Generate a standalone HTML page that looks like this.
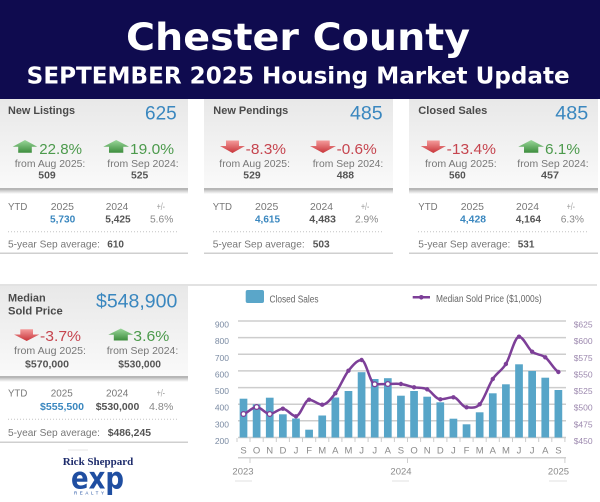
<!DOCTYPE html>
<html><head><meta charset="utf-8"><style>
html,body{margin:0;padding:0;background:#fff;}
svg{display:block;}
.s{font-family:"Liberation Sans",Arial,sans-serif;}
</style></head><body>
<svg width="600" height="502" viewBox="0 0 600 502" xmlns="http://www.w3.org/2000/svg">
<defs>
<linearGradient id="cg" x1="0" y1="0" x2="0" y2="1"><stop offset="0" stop-color="#e8e8e8"/><stop offset="1" stop-color="#fafafa"/></linearGradient>
<linearGradient id="sh" x1="0" y1="0" x2="0" y2="1"><stop offset="0" stop-color="#c4c4c4"/><stop offset="1" stop-color="#ffffff"/></linearGradient>
<linearGradient id="gu" x1="0" y1="0" x2="0" y2="1"><stop offset="0" stop-color="#9ad79a"/><stop offset="1" stop-color="#3d8d3d"/></linearGradient>
<linearGradient id="rd" x1="0" y1="0" x2="0" y2="1"><stop offset="0" stop-color="#f49a9a"/><stop offset="1" stop-color="#c8353a"/></linearGradient>
</defs>
<rect x="0" y="0" width="600" height="99" fill="#0f0b4f"/>
<text x="298" y="50" text-anchor="middle" font-family="'DejaVu Sans',sans-serif" font-weight="bold" font-size="37" fill="#fff" textLength="344" lengthAdjust="spacingAndGlyphs">Chester County</text>
<text x="26.7" y="83.3" font-family="'DejaVu Sans',sans-serif" font-weight="bold" font-size="23" fill="#fff" textLength="543" lengthAdjust="spacingAndGlyphs">SEPTEMBER 2025 Housing Market Update</text>

<!-- card backgrounds -->
<rect x="0" y="99" width="188" height="90" fill="url(#cg)"/>
<rect x="204" y="99" width="189" height="90" fill="url(#cg)"/>
<rect x="409" y="99" width="189" height="90" fill="url(#cg)"/>
<rect x="0" y="286" width="188" height="91" fill="url(#cg)"/>
<g>
<rect x="0" y="190" width="188" height="4" fill="url(#sh)"/>
<rect x="204" y="190" width="189" height="4" fill="url(#sh)"/>
<rect x="409" y="190" width="189" height="4" fill="url(#sh)"/>
<rect x="0" y="378" width="188" height="4" fill="url(#sh)"/>
<line x1="0" y1="189" x2="188" y2="189" stroke="#a0a0a0" stroke-width="1.6"/>
<line x1="204" y1="189" x2="393" y2="189" stroke="#a0a0a0" stroke-width="1.6"/>
<line x1="409" y1="189" x2="598" y2="189" stroke="#a0a0a0" stroke-width="1.6"/>
<line x1="0" y1="377" x2="188" y2="377" stroke="#a0a0a0" stroke-width="1.6"/>
</g>
<g stroke="#c4c4c4" stroke-width="1" stroke-dasharray="1 2">
<line x1="8" y1="231.7" x2="179" y2="231.7"/>
<line x1="213" y1="231.7" x2="384" y2="231.7"/>
<line x1="418" y1="231.7" x2="589" y2="231.7"/>
<line x1="8" y1="419.3" x2="179" y2="419.3"/>
</g>
<g stroke="#cfcfcf" stroke-width="1.5">
<line x1="0" y1="253.3" x2="188" y2="253.3"/>
<line x1="204" y1="253.3" x2="393" y2="253.3"/>
<line x1="409" y1="253.3" x2="598" y2="253.3"/>
<line x1="0" y1="442.3" x2="188" y2="442.3"/>
<line x1="0" y1="285" x2="597" y2="285" stroke="#d8d8d8"/>
</g>

<!-- arrows -->
<g>
<polygon points="25,140 37.3,146.7 31.8,146.7 31.8,152.7 18.2,152.7 18.2,146.7 12.7,146.7" fill="url(#gu)"/>
<polygon points="116.2,140 129,146.7 123.3,146.7 123.3,152.7 109,152.7 109,146.7 103.3,146.7" fill="url(#gu)"/>
<polygon points="226,140.5 239,140.5 239,146 245,146 232.5,153 220,146 226,146" fill="url(#rd)"/>
<polygon points="316.3,140.5 329.7,140.5 329.7,146 336,146 323,153 310,146 316.3,146" fill="url(#rd)"/>
<polygon points="427,140.5 439.7,140.5 439.7,146 446,146 433.3,153 420.7,146 427,146" fill="url(#rd)"/>
<polygon points="531.2,140 544,146.7 538.3,146.7 538.3,152.7 524,152.7 524,146.7 518.3,146.7" fill="url(#gu)"/>
<polygon points="20.3,329.3 33,329.3 33,334.5 39.3,334.5 26.7,341 14,334.5 20.3,334.5" fill="url(#rd)"/>
<polygon points="120.8,328.5 133.3,334.8 127.8,334.8 127.8,340.5 113.8,340.5 113.8,334.8 108.3,334.8" fill="url(#gu)"/>
</g>

<g class="s">
<!-- card 1 -->
<text x="8" y="114" font-size="11" font-weight="bold" fill="#4a4a4a" textLength="67" lengthAdjust="spacingAndGlyphs">New Listings</text>
<text x="145" y="119.3" font-size="19.5" fill="#3a87bf" textLength="31.7" lengthAdjust="spacingAndGlyphs">625</text>
<text x="39.3" y="154" font-size="15" fill="#4c9a4c" textLength="42.7" lengthAdjust="spacingAndGlyphs">22.8%</text>
<text x="130" y="154" font-size="15" fill="#4c9a4c" textLength="44" lengthAdjust="spacingAndGlyphs">19.0%</text>
<text x="14.7" y="166.8" font-size="10.5" fill="#777" textLength="70.6" lengthAdjust="spacingAndGlyphs">from Aug 2025:</text>
<text x="107.3" y="166.8" font-size="10.5" fill="#777" textLength="71.4" lengthAdjust="spacingAndGlyphs">from Sep 2024:</text>
<text x="38.3" y="178.6" font-size="10.5" font-weight="bold" fill="#555" textLength="17.4" lengthAdjust="spacingAndGlyphs">509</text>
<text x="131" y="178.6" font-size="10.5" font-weight="bold" fill="#555" textLength="17.3" lengthAdjust="spacingAndGlyphs">525</text>
<text x="8" y="210" font-size="10.5" fill="#777" textLength="19.3" lengthAdjust="spacingAndGlyphs">YTD</text>
<text x="50.7" y="210" font-size="10.5" fill="#777" textLength="23.3" lengthAdjust="spacingAndGlyphs">2025</text>
<text x="105.7" y="210" font-size="10.5" fill="#777" textLength="22.6" lengthAdjust="spacingAndGlyphs">2024</text>
<text x="156.7" y="210" font-size="10" fill="#999" textLength="8.3" lengthAdjust="spacingAndGlyphs">+/-</text>
<text x="50" y="222.7" font-size="10.5" font-weight="bold" fill="#3a87bf" textLength="25.3" lengthAdjust="spacingAndGlyphs">5,730</text>
<text x="105.3" y="222.7" font-size="10.5" font-weight="bold" fill="#555" textLength="25.4" lengthAdjust="spacingAndGlyphs">5,425</text>
<text x="150" y="222.7" font-size="10.5" fill="#888" textLength="23.3" lengthAdjust="spacingAndGlyphs">5.6%</text>
<text x="8" y="247.3" font-size="10.5" fill="#777" textLength="92" lengthAdjust="spacingAndGlyphs">5-year Sep average:</text>
<text x="107.3" y="247.3" font-size="10.5" font-weight="bold" fill="#555" textLength="16.7" lengthAdjust="spacingAndGlyphs">610</text>

<!-- card 2 -->
<text x="213.3" y="114" font-size="11" font-weight="bold" fill="#4a4a4a" textLength="75" lengthAdjust="spacingAndGlyphs">New Pendings</text>
<text x="350" y="119.3" font-size="19.5" fill="#3a87bf" textLength="32.7" lengthAdjust="spacingAndGlyphs">485</text>
<text x="245.7" y="154" font-size="15" fill="#c6454f" textLength="40.3" lengthAdjust="spacingAndGlyphs">-8.3%</text>
<text x="336.7" y="154" font-size="15" fill="#c6454f" textLength="40" lengthAdjust="spacingAndGlyphs">-0.6%</text>
<text x="219.3" y="166.8" font-size="10.5" fill="#777" textLength="70.7" lengthAdjust="spacingAndGlyphs">from Aug 2025:</text>
<text x="312.7" y="166.8" font-size="10.5" fill="#777" textLength="70.6" lengthAdjust="spacingAndGlyphs">from Sep 2024:</text>
<text x="243.3" y="178.6" font-size="10.5" font-weight="bold" fill="#555" textLength="17.4" lengthAdjust="spacingAndGlyphs">529</text>
<text x="336.7" y="178.6" font-size="10.5" font-weight="bold" fill="#555" textLength="17.3" lengthAdjust="spacingAndGlyphs">488</text>
<text x="212.7" y="210" font-size="10.5" fill="#777" textLength="19.3" lengthAdjust="spacingAndGlyphs">YTD</text>
<text x="255" y="210" font-size="10.5" fill="#777" textLength="23.3" lengthAdjust="spacingAndGlyphs">2025</text>
<text x="310" y="210" font-size="10.5" fill="#777" textLength="23" lengthAdjust="spacingAndGlyphs">2024</text>
<text x="361" y="210" font-size="10" fill="#999" textLength="8.3" lengthAdjust="spacingAndGlyphs">+/-</text>
<text x="255" y="222.7" font-size="10.5" font-weight="bold" fill="#3a87bf" textLength="25" lengthAdjust="spacingAndGlyphs">4,615</text>
<text x="309.3" y="222.7" font-size="10.5" font-weight="bold" fill="#555" textLength="26.7" lengthAdjust="spacingAndGlyphs">4,483</text>
<text x="355" y="222.7" font-size="10.5" fill="#888" textLength="23.3" lengthAdjust="spacingAndGlyphs">2.9%</text>
<text x="212.7" y="247.3" font-size="10.5" fill="#777" textLength="92" lengthAdjust="spacingAndGlyphs">5-year Sep average:</text>
<text x="312.7" y="247.3" font-size="10.5" font-weight="bold" fill="#555" textLength="17" lengthAdjust="spacingAndGlyphs">503</text>

<!-- card 3 -->
<text x="418.3" y="114" font-size="11" font-weight="bold" fill="#4a4a4a" textLength="69" lengthAdjust="spacingAndGlyphs">Closed Sales</text>
<text x="555.3" y="119.3" font-size="19.5" fill="#3a87bf" textLength="33" lengthAdjust="spacingAndGlyphs">485</text>
<text x="446.7" y="154" font-size="15" fill="#c6454f" textLength="49.3" lengthAdjust="spacingAndGlyphs">-13.4%</text>
<text x="545" y="154" font-size="15" fill="#4c9a4c" textLength="35" lengthAdjust="spacingAndGlyphs">6.1%</text>
<text x="425" y="166.8" font-size="10.5" fill="#777" textLength="71.7" lengthAdjust="spacingAndGlyphs">from Aug 2025:</text>
<text x="517.3" y="166.8" font-size="10.5" fill="#777" textLength="71.4" lengthAdjust="spacingAndGlyphs">from Sep 2024:</text>
<text x="449" y="178.6" font-size="10.5" font-weight="bold" fill="#555" textLength="16.7" lengthAdjust="spacingAndGlyphs">560</text>
<text x="541" y="178.6" font-size="10.5" font-weight="bold" fill="#555" textLength="18" lengthAdjust="spacingAndGlyphs">457</text>
<text x="418.3" y="210" font-size="10.5" fill="#777" textLength="19.3" lengthAdjust="spacingAndGlyphs">YTD</text>
<text x="460.7" y="210" font-size="10.5" fill="#777" textLength="23.3" lengthAdjust="spacingAndGlyphs">2025</text>
<text x="516" y="210" font-size="10.5" fill="#777" textLength="23" lengthAdjust="spacingAndGlyphs">2024</text>
<text x="566.7" y="210" font-size="10" fill="#999" textLength="8.3" lengthAdjust="spacingAndGlyphs">+/-</text>
<text x="460" y="222.7" font-size="10.5" font-weight="bold" fill="#3a87bf" textLength="26" lengthAdjust="spacingAndGlyphs">4,428</text>
<text x="515.7" y="222.7" font-size="10.5" font-weight="bold" fill="#555" textLength="25.3" lengthAdjust="spacingAndGlyphs">4,164</text>
<text x="560.7" y="222.7" font-size="10.5" fill="#888" textLength="23.3" lengthAdjust="spacingAndGlyphs">6.3%</text>
<text x="418.3" y="247.3" font-size="10.5" fill="#777" textLength="92" lengthAdjust="spacingAndGlyphs">5-year Sep average:</text>
<text x="517.7" y="247.3" font-size="10.5" font-weight="bold" fill="#555" textLength="16.7" lengthAdjust="spacingAndGlyphs">531</text>

<!-- card 4 -->
<text x="8" y="301.7" font-size="11" font-weight="bold" fill="#4a4a4a" textLength="37.7" lengthAdjust="spacingAndGlyphs">Median</text>
<text x="8" y="314.3" font-size="11" font-weight="bold" fill="#4a4a4a" textLength="54.7" lengthAdjust="spacingAndGlyphs">Sold Price</text>
<text x="96" y="307.3" font-size="19.5" fill="#3a87bf" textLength="81.3" lengthAdjust="spacingAndGlyphs">$548,900</text>
<text x="40" y="341" font-size="15" fill="#c6454f" textLength="41" lengthAdjust="spacingAndGlyphs">-3.7%</text>
<text x="133.3" y="341" font-size="15" fill="#4c9a4c" textLength="36" lengthAdjust="spacingAndGlyphs">3.6%</text>
<text x="14" y="354" font-size="10.5" fill="#777" textLength="72" lengthAdjust="spacingAndGlyphs">from Aug 2025:</text>
<text x="106.7" y="354" font-size="10.5" fill="#777" textLength="71.6" lengthAdjust="spacingAndGlyphs">from Sep 2024:</text>
<text x="25" y="367.3" font-size="10.5" font-weight="bold" fill="#555" textLength="44" lengthAdjust="spacingAndGlyphs">$570,000</text>
<text x="118.3" y="367.3" font-size="10.5" font-weight="bold" fill="#555" textLength="42.7" lengthAdjust="spacingAndGlyphs">$530,000</text>
<text x="8" y="396.7" font-size="10.5" fill="#777" textLength="19.3" lengthAdjust="spacingAndGlyphs">YTD</text>
<text x="50.7" y="396.7" font-size="10.5" fill="#777" textLength="22" lengthAdjust="spacingAndGlyphs">2025</text>
<text x="106" y="396.7" font-size="10.5" fill="#777" textLength="22.3" lengthAdjust="spacingAndGlyphs">2024</text>
<text x="156.7" y="396.7" font-size="10" fill="#999" textLength="8.3" lengthAdjust="spacingAndGlyphs">+/-</text>
<text x="40" y="410" font-size="10.5" font-weight="bold" fill="#3a87bf" textLength="44" lengthAdjust="spacingAndGlyphs">$555,500</text>
<text x="95.7" y="410" font-size="10.5" font-weight="bold" fill="#555" textLength="43.6" lengthAdjust="spacingAndGlyphs">$530,000</text>
<text x="149" y="410" font-size="10.5" fill="#888" textLength="24.3" lengthAdjust="spacingAndGlyphs">4.8%</text>
<text x="8" y="436" font-size="10.5" fill="#777" textLength="92" lengthAdjust="spacingAndGlyphs">5-year Sep average:</text>
<text x="107.7" y="436" font-size="10.5" font-weight="bold" fill="#555" textLength="43.3" lengthAdjust="spacingAndGlyphs">$486,245</text>
</g>

<!-- logo -->
<line x1="68" y1="450" x2="88" y2="450" stroke="#ddd" stroke-width="0.8"/>
<text x="62.7" y="465" font-family="'Liberation Serif',serif" font-weight="bold" font-size="11" fill="#1d2b6b" textLength="70.6" lengthAdjust="spacingAndGlyphs">Rick Sheppard</text>
<text x="71" y="488.3" font-family="'DejaVu Sans',sans-serif" font-weight="bold" font-size="30" fill="#1f4ea1" textLength="53" lengthAdjust="spacingAndGlyphs">exp</text>
<text x="74" y="494.5" font-family="'Liberation Sans',sans-serif" font-size="4.5" fill="#1f4ea1" textLength="30" lengthAdjust="spacing">REALTY</text>

<!-- chart -->
<g class="s">
<rect x="245.7" y="290" width="18.3" height="13" rx="2" fill="#5aa6c9"/>
<text x="269.5" y="302.5" font-size="10" fill="#666" textLength="49" lengthAdjust="spacingAndGlyphs">Closed Sales</text>
<line x1="412.7" y1="297.3" x2="430" y2="297.3" stroke="#7d3f98" stroke-width="2.5"/>
<circle cx="421.3" cy="297.3" r="2.3" fill="#7d3f98"/>
<text x="436" y="302" font-size="10" fill="#666" textLength="105.7" lengthAdjust="spacingAndGlyphs">Median Sold Price ($1,000s)</text>
</g>
<g stroke="#cdcdcd" stroke-width="1.5">
<line x1="238" y1="321" x2="566" y2="321"/>
<line x1="238" y1="337.6" x2="566" y2="337.6"/>
<line x1="238" y1="354.3" x2="566" y2="354.3"/>
<line x1="238" y1="370.9" x2="566" y2="370.9"/>
<line x1="238" y1="387.6" x2="566" y2="387.6"/>
<line x1="238" y1="404.2" x2="566" y2="404.2"/>
<line x1="238" y1="420.8" x2="566" y2="420.8"/>
<line x1="238" y1="437.5" x2="566" y2="437.5"/>
</g>
<g class="s" font-size="8.5" fill="#7b8ba3" text-anchor="end">
<text x="229" y="327.5">900</text>
<text x="229" y="344.1">800</text>
<text x="229" y="360.8">700</text>
<text x="229" y="377.4">600</text>
<text x="229" y="394.1">500</text>
<text x="229" y="410.7">400</text>
<text x="229" y="427.3">300</text>
<text x="229" y="444">200</text>
</g>
<g class="s" font-size="8.5" fill="#9c88ae">
<text x="573.7" y="327.5">$625</text>
<text x="573.7" y="344.1">$600</text>
<text x="573.7" y="360.8">$575</text>
<text x="573.7" y="377.4">$550</text>
<text x="573.7" y="394.1">$525</text>
<text x="573.7" y="410.7">$500</text>
<text x="573.7" y="427.3">$475</text>
<text x="573.7" y="444">$450</text>
</g>
<g fill="#57a5c8">
<rect x="239.65" y="398.7" width="7.7" height="38.8"/>
<rect x="252.77" y="404.3" width="7.7" height="33.2"/>
<rect x="265.89" y="397.7" width="7.7" height="39.8"/>
<rect x="279.01" y="414.3" width="7.7" height="23.2"/>
<rect x="292.13" y="418.5" width="7.7" height="19"/>
<rect x="305.25" y="429.7" width="7.7" height="7.8"/>
<rect x="318.37" y="415.5" width="7.7" height="22"/>
<rect x="331.49" y="397.5" width="7.7" height="40"/>
<rect x="344.61" y="391" width="7.7" height="46.5"/>
<rect x="357.73" y="372.2" width="7.7" height="65.3"/>
<rect x="370.85" y="379" width="7.7" height="58.5"/>
<rect x="383.97" y="378.2" width="7.7" height="59.3"/>
<rect x="397.09" y="395.7" width="7.7" height="41.8"/>
<rect x="410.21" y="391" width="7.7" height="46.5"/>
<rect x="423.33" y="396.7" width="7.7" height="40.8"/>
<rect x="436.45" y="402.3" width="7.7" height="35.2"/>
<rect x="449.57" y="418.7" width="7.7" height="18.8"/>
<rect x="462.69" y="424.3" width="7.7" height="13.2"/>
<rect x="475.81" y="412.3" width="7.7" height="25.2"/>
<rect x="488.93" y="393.3" width="7.7" height="44.2"/>
<rect x="502.05" y="384.3" width="7.7" height="53.2"/>
<rect x="515.17" y="364.3" width="7.7" height="73.2"/>
<rect x="528.29" y="371" width="7.7" height="66.5"/>
<rect x="541.41" y="377.7" width="7.7" height="59.8"/>
<rect x="554.53" y="390" width="7.7" height="47.5"/>
</g>
<g stroke="#cccccc" stroke-width="1">
<line x1="237" y1="438" x2="237" y2="442"/><line x1="250" y1="438" x2="250" y2="442"/><line x1="263.2" y1="438" x2="263.2" y2="442"/><line x1="276.3" y1="438" x2="276.3" y2="442"/><line x1="289.4" y1="438" x2="289.4" y2="442"/><line x1="302.5" y1="438" x2="302.5" y2="442"/><line x1="315.7" y1="438" x2="315.7" y2="442"/><line x1="328.8" y1="438" x2="328.8" y2="442"/><line x1="341.9" y1="438" x2="341.9" y2="442"/><line x1="355" y1="438" x2="355" y2="442"/><line x1="368.1" y1="438" x2="368.1" y2="442"/><line x1="381.3" y1="438" x2="381.3" y2="442"/><line x1="394.4" y1="438" x2="394.4" y2="442"/><line x1="407.5" y1="438" x2="407.5" y2="442"/><line x1="420.6" y1="438" x2="420.6" y2="442"/><line x1="433.7" y1="438" x2="433.7" y2="442"/><line x1="446.9" y1="438" x2="446.9" y2="442"/><line x1="460" y1="438" x2="460" y2="442"/><line x1="473.1" y1="438" x2="473.1" y2="442"/><line x1="486.2" y1="438" x2="486.2" y2="442"/><line x1="499.3" y1="438" x2="499.3" y2="442"/><line x1="512.5" y1="438" x2="512.5" y2="442"/><line x1="525.6" y1="438" x2="525.6" y2="442"/><line x1="538.7" y1="438" x2="538.7" y2="442"/><line x1="551.8" y1="438" x2="551.8" y2="442"/><line x1="564.9" y1="438" x2="564.9" y2="442"/>
</g>
<g class="s" font-size="9.5" fill="#8a8a8a" text-anchor="middle">
<text x="243.5" y="453.5">S</text><text x="256.6" y="453.5">O</text><text x="269.7" y="453.5">N</text><text x="282.9" y="453.5">D</text><text x="296" y="453.5">J</text><text x="309.1" y="453.5">F</text><text x="322.2" y="453.5">M</text><text x="335.3" y="453.5">A</text><text x="348.5" y="453.5">M</text><text x="361.6" y="453.5">J</text><text x="374.7" y="453.5">J</text><text x="387.8" y="453.5">A</text><text x="400.9" y="453.5">S</text><text x="414.1" y="453.5">O</text><text x="427.2" y="453.5">N</text><text x="440.3" y="453.5">D</text><text x="453.4" y="453.5">J</text><text x="466.5" y="453.5">F</text><text x="479.7" y="453.5">M</text><text x="492.8" y="453.5">A</text><text x="505.9" y="453.5">M</text><text x="519" y="453.5">J</text><text x="532.1" y="453.5">J</text><text x="545.3" y="453.5">A</text><text x="558.4" y="453.5">S</text>
<text x="243" y="474.3">2023</text><text x="401" y="474.3">2024</text><text x="558.5" y="474.3">2025</text>
</g>
<line x1="238" y1="457.7" x2="566" y2="457.7" stroke="#d0d0d0" stroke-width="1.5"/>
<g stroke="#cfcfcf" stroke-width="1">
<line x1="250" y1="458" x2="250" y2="463"/><line x1="407.5" y1="458" x2="407.5" y2="463"/><line x1="564.9" y1="458" x2="564.9" y2="463"/>
</g>
<g stroke="#e2e2e2" stroke-width="1">
<line x1="235" y1="481" x2="252" y2="481"/><line x1="392" y1="481" x2="409" y2="481"/><line x1="549" y1="481" x2="567" y2="481"/>
</g>
<path fill="none" stroke="#7d3f98" stroke-width="2.5" stroke-linejoin="round" d="M243.5,414 C247.87,412.83 252.25,407 256.62,407 C260.99,407 265.37,414 269.74,414 C274.11,414 278.49,408.7 282.86,408.7 C287.23,408.7 291.61,416.3 295.98,416.3 C300.35,416.3 304.73,399.7 309.1,399.7 C313.47,399.7 317.85,404.7 322.22,404.7 C326.59,404.7 330.97,398.97 335.34,393.3 C339.71,387.63 344.09,376.25 348.46,370.7 C352.83,365.15 357.21,360 361.58,360 C365.95,360 370.33,384.3 374.7,384.3 C379.07,384.3 383.45,384 387.82,384 C392.19,384 396.57,383.45 400.94,384 C405.31,384.55 409.69,386.42 414.06,387.3 C418.43,388.18 422.81,387.3 427.18,389.3 C431.55,391.3 435.93,399.3 440.3,399.3 C444.67,399.3 449.05,397.3 453.42,397.3 C457.79,397.3 462.17,407.3 466.54,407.3 C470.91,407.3 475.29,409.02 479.66,404.3 C484.03,399.58 488.41,385.72 492.78,379 C497.15,372.28 501.53,371.05 505.9,364 C510.27,356.95 514.65,336.7 519.02,336.7 C523.39,336.7 527.77,348.27 532.14,351.7 C536.51,355.13 540.89,353.92 545.26,357.3 C549.63,360.68 554.01,369.55 558.38,372"/>
<g fill="#7d3f98">
<circle cx="282.86" cy="408.7" r="2.2"/><circle cx="295.98" cy="416.3" r="2.2"/><circle cx="309.1" cy="399.7" r="2.2"/><circle cx="322.22" cy="404.7" r="2.2"/><circle cx="335.34" cy="393.3" r="2.2"/><circle cx="348.46" cy="370.7" r="2.2"/><circle cx="361.58" cy="360" r="2.2"/><circle cx="400.94" cy="384" r="2.2"/><circle cx="414.06" cy="387.3" r="2.2"/><circle cx="427.18" cy="389.3" r="2.2"/><circle cx="440.3" cy="399.3" r="2.2"/><circle cx="453.42" cy="397.3" r="2.2"/><circle cx="466.54" cy="407.3" r="2.2"/><circle cx="479.66" cy="404.3" r="2.2"/><circle cx="492.78" cy="379" r="2.2"/><circle cx="505.9" cy="364" r="2.2"/><circle cx="519.02" cy="336.7" r="2.2"/><circle cx="532.14" cy="351.7" r="2.2"/><circle cx="545.26" cy="357.3" r="2.2"/><circle cx="558.38" cy="372" r="2.2"/>
</g>
<g fill="#fff" stroke="#7d3f98" stroke-width="1.3">
<circle cx="243.5" cy="414" r="2.4"/><circle cx="256.62" cy="407" r="2.4"/><circle cx="269.74" cy="414" r="2.4"/><circle cx="374.7" cy="384.3" r="2.4"/><circle cx="387.82" cy="384" r="2.4"/>
</g>
</svg>
</body></html>
